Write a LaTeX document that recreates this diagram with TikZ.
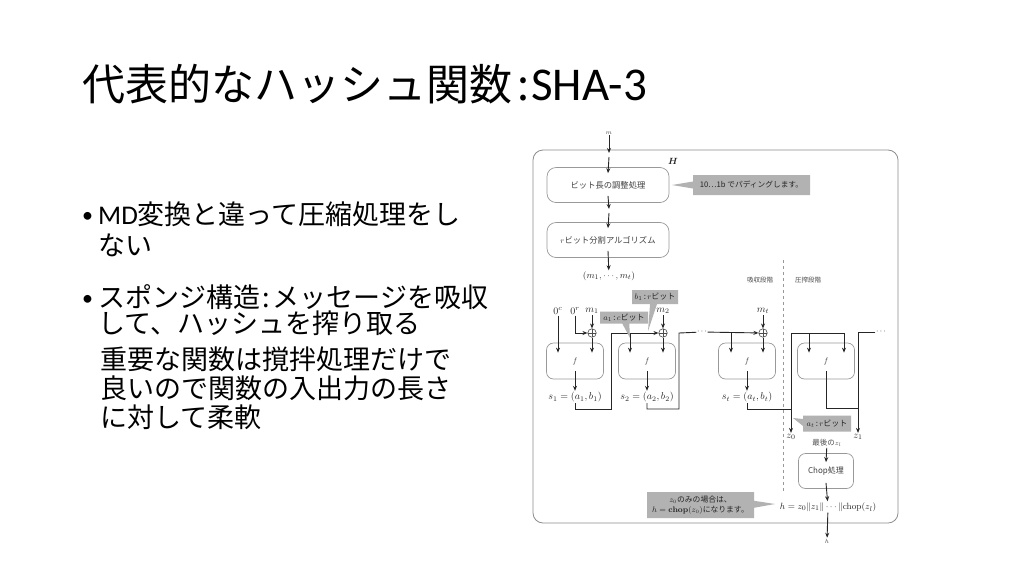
\documentclass[tikz,border=0pt]{standalone}
\usepackage{bm}
\usepackage[no-math]{fontspec}
\setmainfont{Noto Sans CJK JP}
\newfontfamily\latinfont{Carlito}
\usetikzlibrary{arrows.meta,shapes.callouts}

\begin{document}
\begin{tikzpicture}[x=1pt,y=-1pt]

    \tikzset{
        wire/.style={line width=0.9pt, black!85},
        arr/.style={wire, -{Stealth[length=5pt,width=4pt]}},
        fbox/.style={
            draw=black!40,
            line width=0.7pt,
            rounded corners=7pt,
            minimum width=57pt,
            minimum height=36pt,
            inner sep=0pt,
            font=\fontsize{8}{9}\selectfont,
            text=black!75
        },
        proc/.style={
            fbox,
            rounded corners=9pt,
            minimum width=122pt,
            minimum height=35pt,
            font=\fontsize{8.3}{9}\selectfont
        },
        lbl/.style={inner sep=1pt, font=\fontsize{10}{11}\selectfont, text=black!85},
        tiny/.style={inner sep=1pt, font=\fontsize{6.5}{7}\selectfont, text=black!70},
        tag/.style={
            rectangle callout,
            fill=black!30,
            inner sep=1pt,
            callout pointer width=7pt,
            font=\fontsize{8}{9}\selectfont,
            text=black!85
        },
        xorc/.style={
            circle, draw=black!70, fill=white, line width=0.6pt,
            minimum size=8.5pt, inner sep=0pt,
            path picture={\draw[black!70, line width=0.6pt]
                (path picture bounding box.north) -- (path picture bounding box.south)
                (path picture bounding box.west) -- (path picture bounding box.east);}
        },
        body/.style={anchor=base west, inner sep=0pt, text height=20pt, text depth=4pt,
            font=\fontsize{27}{28}\selectfont},
        bullet/.style={anchor=base west, inner sep=0pt, font=\latinfont\fontsize{22}{24}\selectfont}
    }

    % ページ
    \fill[white] (0,0) rectangle (1024,576);
    \useasboundingbox (0,0) rectangle (1024,576);

    % タイトル
    \node[anchor=base west, inner sep=0pt, font=\fontsize{43}{45}\selectfont]
        (title) at (82,100) {代表的なハッシュ関数\hspace{5pt}:\hspace{2pt}{\latinfont\fontsize{47}{49}\selectfont SHA-3}};

    % 本文
    \node[bullet] (dot1) at (82,222) {•};
    \node[body] (l1) at (98,224) {{\latinfont MD}変換と違って圧縮処理をし};
    \node[body] (l2) at (98,255) {ない};
    \node[bullet] (dot2) at (82,305) {•};
    \node[body] (l3) at (98,307) {スポンジ構造\hspace{2pt}:\hspace{3pt}メッセージを吸収};
    \node[body] (l4) at (98,333) {して、ハッシュを搾り取る};
    \node[body] (l5) at (100,369) {重要な関数は撹拌処理だけで};
    \node[body] (l6) at (100,398) {良いので関数の入出力の長さ};
    \node[body] (l7) at (100,427) {に対して柔軟};

    % 枠 H
    \draw[black!45, line width=0.8pt, rounded corners=10pt] (533,150) rectangle (898,523);
    \node[lbl, font=\fontsize{9}{10}\selectfont] (Hlab) at (673,161) {$\bm{H}$};

    % 前処理
    \node[tiny] (mlab) at (609,133) {$m$};
    \coordinate (hin1) at (609,153);
    \coordinate (hin2) at (609,157);
    \node[proc] (pad) at (608,185) {ビット長の調整処理};
    \coordinate (pm1) at (609,209);
    \coordinate (pm2) at (609,213);
    \node[proc] (split) at (608,240) {$r$ビット分割アルゴリズム};
    \node[lbl, font=\fontsize{9.5}{10}\selectfont] (msq) at (609,276) {$(m_1,\cdots,m_t)$};

    \draw[arr] (mlab) -- (hin1);
    \draw[arr] (hin2) -- ([yshift=-6pt]pad.north);
    \draw[arr] ([yshift=7pt]pad.south) -- (pm1);
    \draw[arr] (pm2) -- ([yshift=-6pt]split.north);
    \draw[arr] ([yshift=7pt]split.south) -- (msq);

    \node[tag, minimum width=117pt, minimum height=20pt, font=\fontsize{7.7}{8}\selectfont,
          callout absolute pointer={(672,185)}] (padtag) at (751.5,185) {10…1b でパディングします。};

    % 段階の境界
    \node[tiny] (absorb) at (760,280) {吸収段階};
    \node[tiny] (squeeze) at (808,280) {圧搾段階};
    \coordinate (dtop) at (783,260);
    \coordinate (dbot) at (783,492);
    \draw[black!40, dashed, line width=0.7pt] (dtop) -- (dbot);

    % f ブロック
    \node[fbox] (f1) at (575,361) {$f$};
    \node[fbox] (f2) at (647,361) {$f$};
    \node[fbox] (ft) at (747,361) {$f$};
    \node[fbox] (fs) at (826,361) {$f$};
    \coordinate (in1) at ([yshift=-10pt]f1.north);
    \coordinate (in2) at ([yshift=-10pt]f2.north);
    \coordinate (int) at ([yshift=-10pt]ft.north);
    \coordinate (ins) at ([yshift=-10pt]fs.north);

    % 1 段目
    \node[lbl] (c0) at (558,311) {$0^c$};
    \node[lbl] (r0) at (575,311) {$0^r$};
    \node[lbl] (m1) at (592,311) {$m_1$};
    \node[xorc] (x1) at (592,333) {};
    \node[lbl] (s1) at (575,397) {$s_1=(a_1,b_1)$};
    \draw[arr] (c0) -- (c0 |- in1);
    \draw[arr] (r0) |- (x1);
    \draw[arr] (m1) -- (x1);
    \draw[arr] (x1) -- (x1 |- in1);
    \draw[arr] ([yshift=8pt]f1.south) -- (s1);

    % 2 段目
    \node[lbl] (m2) at (663,311) {$m_2$};
    \node[xorc] (x2) at (663,333) {};
    \node[lbl] (s2) at (647,397) {$s_2=(a_2,b_2)$};
    \coordinate (j1) at (611,409);
    \coordinate (w1) at (611,333);
    \coordinate (a2) at (630,333);
    \draw[arr] (s1) |- (j1) -- (w1) -- (x2);
    \draw[arr] (a2) -- (a2 |- in2);
    \draw[arr] (m2) -- (x2);
    \draw[arr] (x2) -- (x2 |- in2);
    \draw[arr] ([yshift=8pt]f2.south) -- (s2);

    % t 段目
    \node[inner sep=0.5pt, font=\fontsize{8}{9}\selectfont] (dots1) at (702,332) {$\cdots$};
    \node[lbl] (mt) at (763,311) {$m_t$};
    \node[xorc] (xt) at (763,333) {};
    \node[lbl] (st) at (747,397) {$s_t=(a_t,b_t)$};
    \coordinate (j2) at (679,409);
    \coordinate (w2) at (679,333);
    \coordinate (brt) at (731,333);
    \draw[wire] (s2) |- (j2) -- (w2) -- (dots1);
    \draw[arr] (dots1) -- (xt);
    \draw[arr] (brt) -- (brt |- int);
    \draw[arr] (mt) -- (xt);
    \draw[arr] (xt) -- (xt |- int);
    \draw[arr] ([yshift=8pt]ft.south) -- (st);

    % 圧搾
    \node[lbl] (z0) at (791,437) {$z_0$};
    \node[lbl] (z1) at (858,437) {$z_1$};
    \node[inner sep=0.5pt, font=\fontsize{8}{9}\selectfont] (dots2) at (881,332) {$\cdots$};
    \coordinate (jt) at (791,409);
    \coordinate (wt) at (791,333);
    \coordinate (brs) at (809,333);
    \coordinate (bs) at (844,333);
    \coordinate (ks) at (858,408);
    \draw[wire] (st) |- (jt);
    \draw[arr] (jt) -- (z0);
    \draw[arr] (jt) -- (wt) -- (bs) -- (bs |- ins);
    \draw[arr] (brs) -- (brs |- ins);
    \draw[wire] ([yshift=8pt]fs.south) |- (ks);
    \draw[arr] (dots2) -| (z1);

    % 吹き出し
    \node[tag, minimum width=48pt, minimum height=12pt,
          callout absolute pointer={(630,338)}] (atag) at (624,317.5) {$a_1$\,:\,$c$ビット};
    \node[tag, minimum width=46pt, minimum height=14pt,
          callout absolute pointer={(648,331)}] (btag) at (655,297) {$b_1$\,:\,$r$ビット};
    \node[tag, minimum width=48pt, minimum height=16pt,
          callout absolute pointer={(793,418)}] (attag) at (827,423.5) {$a_t$\,:\,$r$ビット};

    % 出力
    \node[tiny, font=\fontsize{7.5}{8}\selectfont] (last) at (827,443) {最後の$z_l$};
    \node[fbox, minimum width=55pt, minimum height=35pt, font=\fontsize{8}{9}\selectfont]
        (chop) at (826,471) {Chop処理};
    \node[lbl, font=\fontsize{9.5}{10}\selectfont] (hval) at (828,507) {$h=z_0\|z_1\|\cdots\|\mathrm{chop}(z_l)$};
    \node[tiny] (hlab) at (827,541) {$h$};
    \draw[arr] (last) -- ([yshift=-9pt]chop.north);
    \draw[arr] ([yshift=6pt]chop.south) -- (hval);
    \draw[arr] (hval) -- (hlab);

    \node[tag, minimum width=107pt, minimum height=26pt, align=center,
          font=\fontsize{7.8}{9.5}\selectfont,
          callout absolute pointer={(775,504)}] (znote) at (700.5,505)
        {$z_0$のみの場合は、\\$h=\mathbf{chop}(z_0)$になります。};

\end{tikzpicture}
\end{document}
